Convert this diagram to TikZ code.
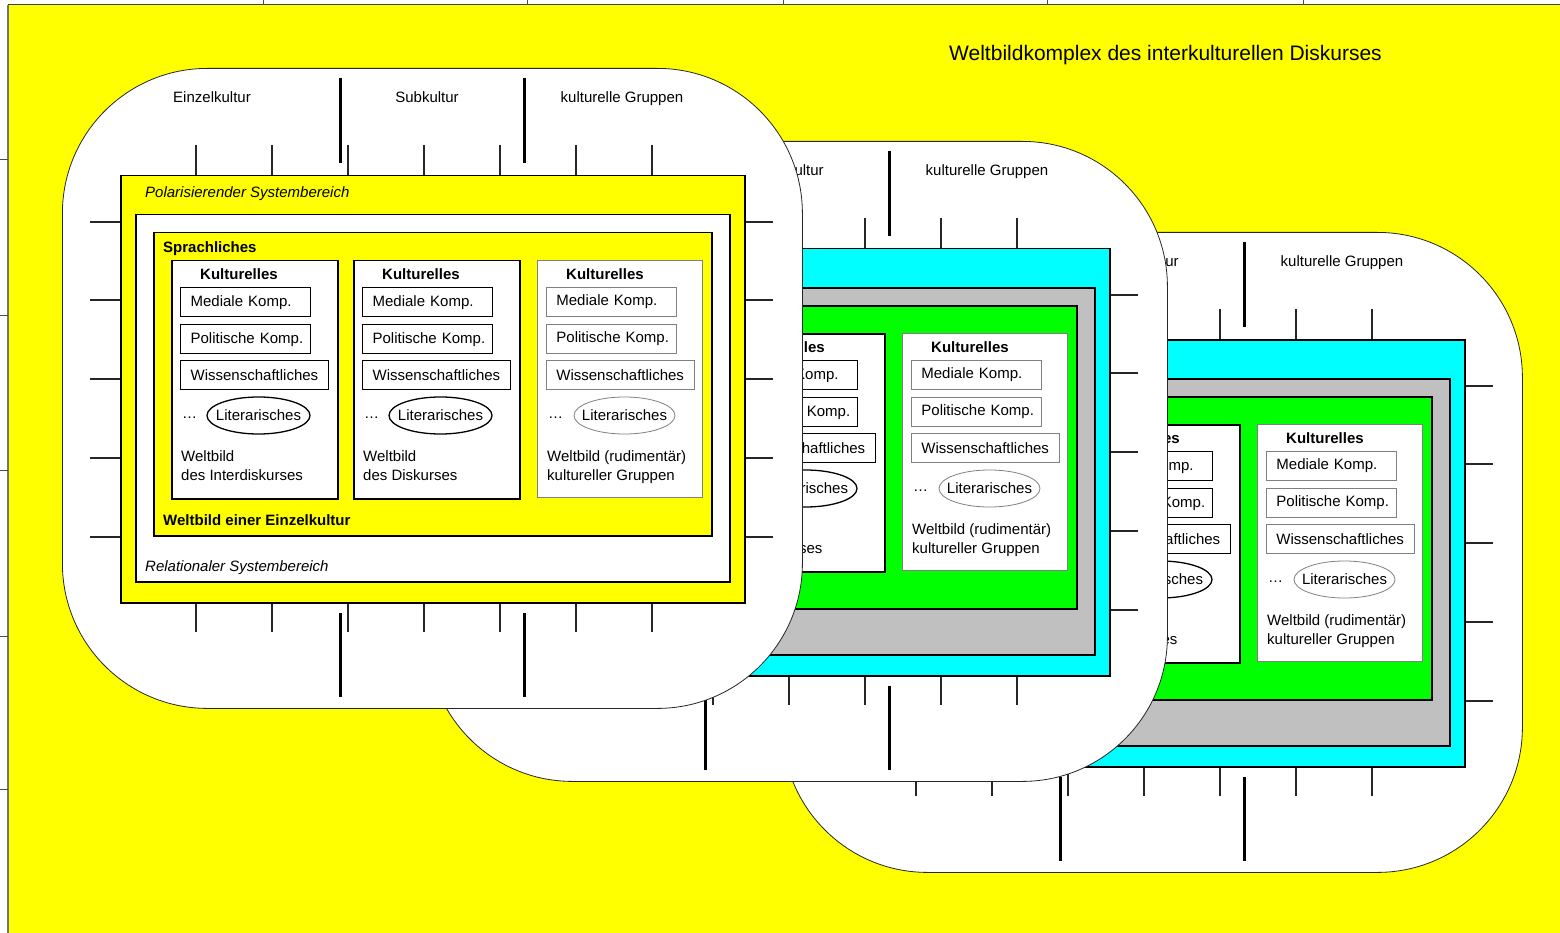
\documentclass[tikz,border=0pt]{standalone}
\usepackage{fontspec}
\setmainfont{Liberation Sans}
\usetikzlibrary{shapes.geometric}
\definecolor{yel}{RGB}{255,255,0}
\definecolor{cya}{RGB}{0,255,255}
\definecolor{gry}{RGB}{192,192,192}
\definecolor{grn}{RGB}{0,255,0}
\tikzset{
  lbl/.style={inner sep=0pt, font=\fontsize{15pt}{19pt}\selectfont},
  lblw/.style={lbl, anchor=base west},
  card/.style={draw=black!85, line width=0.8pt, fill=white, rounded corners=145pt,
    minimum width=740pt, minimum height=640pt, anchor=north west, inner sep=0pt},
  boxframe/.style={draw=black, line width=1.5pt, anchor=north west, inner sep=0pt},
  tickline/.style={line width=1.2pt, black!85},
  barline/.style={line width=3pt, black},
  colboxk/.style={boxframe, fill=white, minimum width=166pt, minimum height=238pt},
  colboxg/.style={draw=black!50, line width=0.8pt, anchor=north west, inner sep=0pt,
    fill=white, minimum width=165pt, minimum height=237pt},
  kboxk/.style={lbl, draw=black, line width=1.3pt, fill=white, anchor=north west,
    inner xsep=5pt, inner ysep=0pt, minimum height=29pt, align=left},
  kboxg/.style={kboxk, draw=black!50, line width=0.8pt},
  ellk/.style={lbl, ellipse, draw=black, line width=1.3pt, fill=white,
    minimum width=103pt, minimum height=37pt},
  ellg/.style={ellk, draw=black!50, line width=0.8pt, minimum width=101pt},
}
% column: #1 prefix, #2 left x, #3 variant (k/g), #4 line 1, #5 line 2
\newcommand\kcol[5]{%
  \node[colbox#3] (#1) at (#2,260) {};
  \node[lblw] (#1-k) at ({#2+29},279.5) {\bfseries Kulturelles};
  \node[kbox#3, text width=120pt] (#1-med) at ({#2+9},287) {\hspace*{5pt}Mediale Komp.};
  \node[kbox#3, text width=120pt] (#1-pol) at ({#2+9},324) {\hspace*{5pt}Politische Komp.};
  \node[kbox#3, text width=138pt] (#1-wis) at ({#2+9},360) {\hspace*{5pt}Wissenschaftliches};
  \node[lblw] (#1-dots) at ({#2+11},418) {…};
  \node[ell#3] (#1-lit) at ({#2+87.5},415.5) {\makebox[0pt]{Literarisches}};
  \node[lblw] (#1-w1) at ({#2+10},461.5) {#4};
  \node[lblw] (#1-w2) at ({#2+10},480.5) {#5};
}
% card: #1 prefix, #2 dx, #3 dy, #4 outer, #5 middle, #6 inner colour
\newcommand\kcard[6]{%
\begin{scope}[shift={(#2,#3)}]
  \node[card] (#1) at (62,68) {};
  \node[lbl, anchor=base] (#1-ek) at (212,102.5) {Einzelkultur};
  \node[lbl, anchor=base] (#1-sk) at (427,102.5) {Subkultur};
  \node[lbl, anchor=base] (#1-kg) at (622,102.5) {kulturelle Gruppen};
  \foreach \x in {196,272,348,424,500,576,652} {
    \draw[tickline] (\x,145) -- (\x,175);
    \draw[tickline] (\x,602) -- (\x,632);
  }
  \foreach \y in {222,300,379,458,537} {
    \draw[tickline] (90,\y) -- (120,\y);
    \draw[tickline] (744,\y) -- (773,\y);
  }
  \foreach \x in {340,524} {
    \draw[barline] (\x,78) -- (\x,163);
    \draw[barline] (\x,613) -- (\x,697);
  }
  \node[boxframe, fill=#4, minimum width=624pt, minimum height=427pt] (#1-polb) at (120,175) {};
  \node[boxframe, fill=#5, minimum width=594pt, minimum height=367pt] (#1-relb) at (135,214) {};
  \node[boxframe, fill=#6, minimum width=558pt, minimum height=303pt] (#1-sprb) at (153,232) {};
  \node[lblw] (#1-poltxt) at (145,197.5) {\itshape Polarisierender Systembereich};
  \node[lblw] (#1-sprtxt) at (163,252.5) {\bfseries Sprachliches};
  \node[lblw] (#1-ewtxt) at (163,525.5) {\bfseries Weltbild einer Einzelkultur};
  \node[lblw] (#1-reltxt) at (145,571.5) {\itshape Relationaler Systembereich};
  \kcol{#1-c1}{171}{k}{Weltbild}{des Interdiskurses}
  \kcol{#1-c2}{353}{k}{Weltbild}{des Diskurses}
  \kcol{#1-c3}{537}{g}{Weltbild (rudimentär)}{kultureller Gruppen}
\end{scope}}
\begin{document}
\begin{tikzpicture}[x=1pt,y=-1pt]
  \useasboundingbox (0,0) rectangle (1560,933);
  \fill[white] (0,0) rectangle (1560,933);
  \fill[yel] (8,5) rectangle (1560,933);
  \draw[black!75, line width=1pt] (8,5) -- (1560,5);
  \draw[black!55, line width=1.5pt] (8,5) -- (8,933);
  \foreach \x in {263,527,783,1047,1303} \draw[black!70, line width=1pt] (\x,0) -- (\x,5);
  \foreach \y in {160,315,470,636,789} \draw[black!70, line width=1pt] (0,\y) -- (8,\y);
  \node[inner sep=0pt, anchor=base, font=\fontsize{21pt}{25pt}\selectfont] (title) at (1165.5,60.5)
    {Weltbildkomplex des interkulturellen Diskurses};
  \kcard{C}{720}{164}{cya}{gry}{grn}
  \kcard{B}{365}{73}{cya}{gry}{grn}
  \kcard{A}{0}{0}{yel}{white}{yel}
\end{tikzpicture}
\end{document}
